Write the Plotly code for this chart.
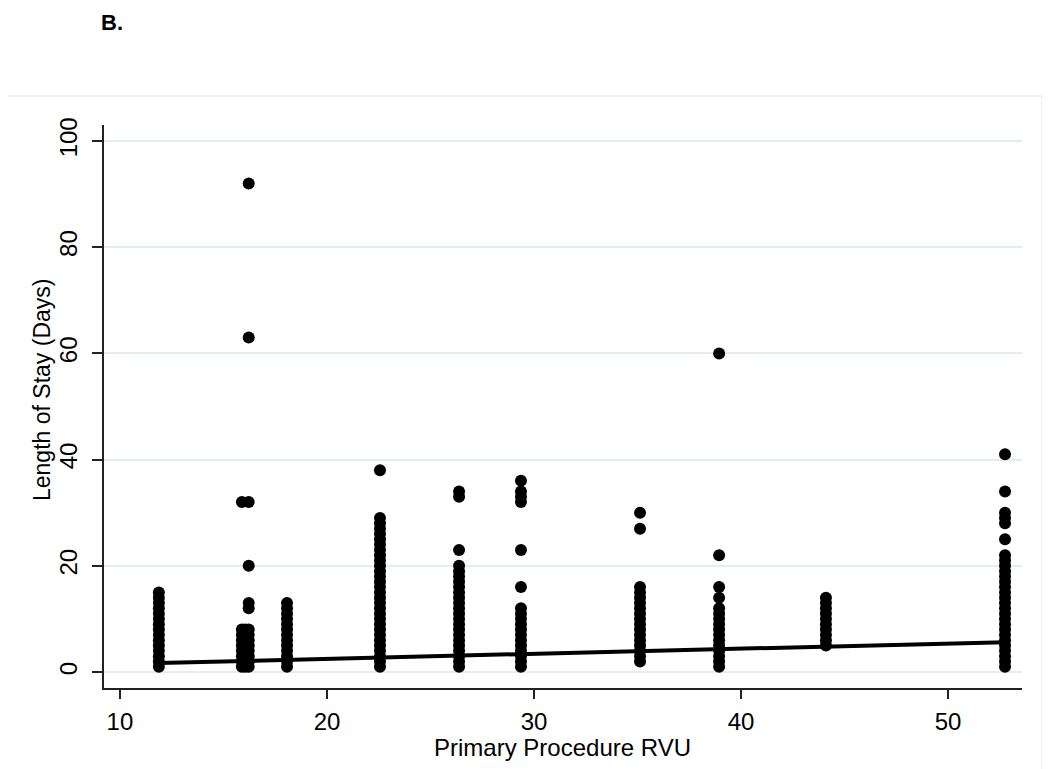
import plotly.graph_objects as go

# ---- data ----
rvu_x = [11.88, 15.89, 16.05, 16.22, 18.07, 22.56, 26.38, 29.37, 35.12, 38.94, 44.10, 52.75]

los_11_88 = [1, 2, 3, 4, 5, 6, 7, 8, 9, 10, 11, 12, 13, 14, 15]
los_15_89 = [1, 2, 3, 4, 5, 6, 7, 8, 32]
los_16_05 = [1, 2, 3, 4, 5, 6, 7, 8]
los_16_22 = [1, 2, 3, 4, 5, 6, 7, 8, 12, 13, 20, 32, 63, 92]
los_18_07 = [1, 2, 3, 4, 5, 6, 7, 8, 9, 10, 11, 12, 13]
los_22_56 = [1, 2, 3, 4, 5, 6, 7, 8, 9, 10, 11, 12, 13, 14, 15, 16, 17, 18, 19, 20,
             21, 22, 23, 24, 25, 26, 27, 28, 29, 38]
los_26_38 = [1, 2, 3, 4, 5, 6, 7, 8, 9, 10, 11, 12, 13, 14, 15, 16, 17, 18, 19, 20,
             23, 33, 34]
los_29_37 = [1, 2, 3, 4, 5, 6, 7, 8, 9, 10, 11, 12, 16, 23, 32, 33, 34, 36]
los_35_12 = [2, 3, 4, 5, 6, 7, 8, 9, 10, 11, 12, 13, 14, 15, 16, 27, 30]
los_38_94 = [1, 2, 3, 4, 5, 6, 7, 8, 9, 10, 11, 12, 14, 16, 22, 60]
los_44_10 = [5, 6, 7, 8, 9, 10, 11, 12, 13, 14]
los_52_75 = [1, 2, 3, 4, 5, 6, 7, 8, 9, 10, 11, 12, 13, 14, 15, 16, 17, 18, 19, 20,
             21, 22, 25, 28, 29, 30, 34, 41]

los_columns = [los_11_88, los_15_89, los_16_05, los_16_22, los_18_07, los_22_56,
               los_26_38, los_29_37, los_35_12, los_38_94, los_44_10, los_52_75]

# fitted line
fit_intercept = 0.554
fit_slope = 0.0963

x_ticks = [10, 20, 30, 40, 50]
y_ticks = [0, 20, 40, 60, 80, 100]

# ---- build ----
xs, ys = [], []
for xv, col in zip(rvu_x, los_columns):
    for yv in col:
        xs.append(xv)
        ys.append(yv)

fit_x = [min(rvu_x), max(rvu_x)]
fit_y = [fit_intercept + fit_slope * v for v in fit_x]

FONT = "Liberation Sans, Arial, sans-serif"

# page body has an 8px margin -> compensate
OFF = 8
L, R, T, B = 104 - OFF, 1050 - (1022 - OFF), 125 - OFF, 769 - (688 - OFF)
PW, PH = 1022 - 104, 688 - 125


def px(xpix):
    return (xpix - 104) / PW


def py(ypix):
    return (688 - ypix) / PH


fig = go.Figure()
fig.add_trace(go.Scatter(x=xs, y=ys, mode="markers",
                         marker=dict(color="black", size=12, line=dict(width=0)),
                         showlegend=False, hoverinfo="x+y"))
fig.add_trace(go.Scatter(x=fit_x, y=fit_y, mode="lines",
                         line=dict(color="black", width=4),
                         showlegend=False))

fig.update_layout(
    width=1050, height=769,
    margin=dict(l=L, r=R, t=T, b=B),
    paper_bgcolor="white", plot_bgcolor="white",
    font=dict(family=FONT, color="black"),
    xaxis=dict(range=[9.23, 53.57], tickvals=x_ticks, ticks="outside", ticklen=9,
               tickwidth=1.5, tickcolor="#222", showline=True, linecolor="#222",
               linewidth=1.5, showgrid=False, zeroline=False,
               tickfont=dict(size=24, family=FONT), ticklabelstandoff=2),
    yaxis=dict(range=[-3, 103], tickvals=y_ticks, ticks="outside", ticklen=10,
               tickwidth=1.5, tickcolor="#222", showline=True, linecolor="#222",
               linewidth=1.5, showgrid=True, gridcolor="#e4edf1", gridwidth=2,
               zeroline=False, tickangle=-90,
               tickfont=dict(size=24, family=FONT), ticklabelstandoff=6),
    shapes=[dict(type="rect", xref="paper", yref="paper",
                 x0=px(-3), x1=px(1042), y0=py(790), y1=py(96),
                 line=dict(color="#e3ecf0", width=1.5), fillcolor="rgba(0,0,0,0)",
                 layer="below")],
    annotations=[
        dict(text="<b>B.</b>", xref="paper", yref="paper",
             x=px(99), y=py(8), xanchor="left", yanchor="top", showarrow=False,
             font=dict(size=22, family=FONT, color="black")),
        dict(text="Primary Procedure RVU", xref="paper", yref="paper",
             x=px(562), y=py(747), xanchor="center", yanchor="middle", showarrow=False,
             font=dict(size=24, family=FONT, color="black")),
        dict(text="Length of Stay (Days)", xref="paper", yref="paper", textangle=-90,
             x=px(42), y=py(390), xanchor="center", yanchor="middle", showarrow=False,
             font=dict(size=23, family=FONT, color="black")),
    ],
)

fig.write_html("out.html")
